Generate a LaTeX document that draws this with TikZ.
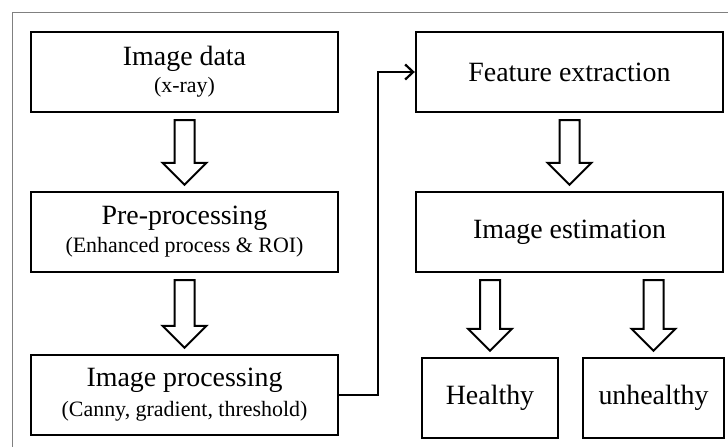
\documentclass[tikz,border=0pt]{standalone}
\usepackage{fontspec}
\setmainfont{Liberation Serif}
\usetikzlibrary{calc,arrows.meta}
\newcommand{\mainsz}{\fontsize{28}{31}\selectfont}
\newcommand{\subsz}{\fontsize{22}{26}\selectfont}
\newcommand{\fatarrow}[2]{%
  \draw[fatarr] ($(#1.south -| #2.north)+(-10,7)$) -- ++(20,0)
    -- ($(#2.north)+(10,-28)$) -- ++(12,0) -- ($(#2.north)+(0,-6)$)
    -- ($(#2.north)+(-22,-28)$) -- ++(12,0) -- cycle;}
\begin{document}
\begin{tikzpicture}[x=1bp,y=-1bp,
  box/.style={draw,line width=2.4bp,minimum width=307bp,minimum height=80bp,
    inner sep=0pt,align=center,font=\mainsz},
  smallbox/.style={box,minimum width=#1},
  fatarr/.style={draw,line width=2bp,fill=white,line join=miter},
  conn/.style={draw,line width=2.4bp,-{Straight Barb[length=8bp,width=15bp,line width=2.2bp]}},
  frame/.style={draw,gray,line width=1bp}]
\useasboundingbox (0,0) rectangle (728,447);
\draw[frame] (12,447) -- (12,13) -- (728,13);
\node[box] (A) at (184.5,72) {Image data\\[-4bp]{\subsz (x-ray)}};
\node[box] (B) at (184.5,232) {Pre-processing\\[-3bp]{\subsz (Enhanced process \& ROI)}};
\node[box] (C) at (184.5,395) {Image processing\\[-1bp]{\subsz (Canny, gradient, threshold)}};
\node[box] (D) at (569.5,72) {Feature extraction};
\node[box] (E) at (569.5,232) {Image estimation};
\node[smallbox=136bp] (F) at (490,398) {Healthy};
\node[smallbox=141bp] (G) at (653.5,398) {unhealthy};
\fatarrow{A}{B}
\fatarrow{B}{C}
\fatarrow{D}{E}
\fatarrow{E}{F}
\fatarrow{E}{G}
\draw[conn] (C.east) -- ++(39,0) |- (D.west);
\end{tikzpicture}
\end{document}
